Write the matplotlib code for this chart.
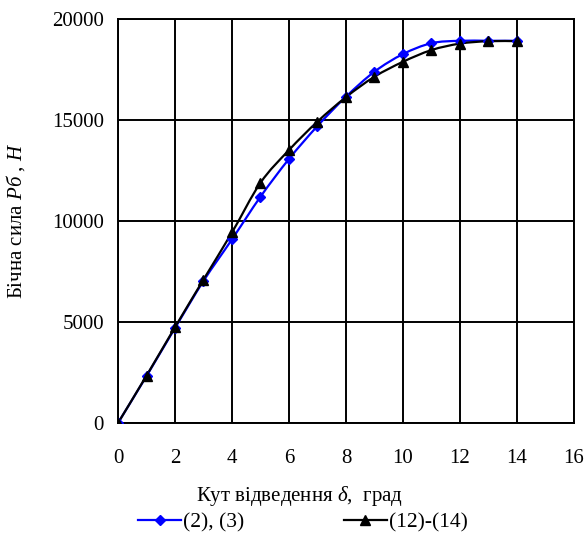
import matplotlib
matplotlib.use("Agg")
import matplotlib.pyplot as plt
import numpy as np
from matplotlib.path import Path
from matplotlib.patches import PathPatch

plt.rcParams['font.family'] = ['Liberation Serif', 'DejaVu Serif']
plt.rcParams['mathtext.fontset'] = 'custom'
plt.rcParams['mathtext.rm'] = 'Liberation Serif'
plt.rcParams['mathtext.it'] = 'Liberation Serif:italic'

angle = [0, 1, 2, 3, 4, 5, 6, 7, 8, 9, 10, 11, 12, 13, 14]
force_23 = [0, 2320, 4700, 7030, 9090, 11200, 13070, 14700, 16150, 17390, 18260, 18800, 18920, 18920, 18920]
force_1214 = [0, 2340, 4740, 7100, 9430, 11890, 13510, 14920, 16130, 17140, 17880, 18460, 18780, 18900, 18900]


def smooth_path(x, y):
    # Excel-like smoothed line: Catmull-Rom segments as cubic Bezier
    x = np.asarray(x, float)
    y = np.asarray(y, float)
    verts = [(x[0], y[0])]
    codes = [Path.MOVETO]
    n = len(x)
    for i in range(n - 1):
        p0 = (x[i - 1], y[i - 1]) if i > 0 else (x[i], y[i])
        p1 = (x[i], y[i])
        p2 = (x[i + 1], y[i + 1])
        p3 = (x[i + 2], y[i + 2]) if i + 2 < n else (x[i + 1], y[i + 1])
        c1 = (p1[0] + (p2[0] - p0[0]) / 6, p1[1] + (p2[1] - p0[1]) / 6)
        c2 = (p2[0] - (p3[0] - p1[0]) / 6, p2[1] - (p3[1] - p1[1]) / 6)
        verts += [c1, c2, p2]
        codes += [Path.CURVE4] * 3
    return Path(verts, codes)


fig = plt.figure(figsize=(5.88, 5.42), dpi=100)
ax = fig.add_axes([0.2007, 0.2196, 0.7753, 0.7454])

ax.add_patch(PathPatch(smooth_path(angle, force_23), fill=False, edgecolor='#0000ff', lw=1.6, zorder=3))
ax.add_patch(PathPatch(smooth_path(angle, force_1214), fill=False, edgecolor='black', lw=1.6, zorder=4))
ax.plot(angle, force_23, ls='none', marker='D', ms=5, color='#0000ff', zorder=5)
ax.plot(angle, force_1214, ls='none', marker='^', ms=7.5, color='black', zorder=6)

h1, = ax.plot([], [], color='#0000ff', lw=1.6, marker='D', ms=5)
h2, = ax.plot([], [], color='black', lw=1.6, marker='^', ms=7.5)

ax.set_xlim(0, 16)
ax.set_ylim(0, 20000)
ax.set_xticks(range(0, 17, 2))
ax.set_yticks(range(0, 20001, 5000))
ax.grid(True, color='black', lw=1.4)
ax.tick_params(length=0, labelsize=15)
ax.tick_params(axis='x', pad=19)
ax.tick_params(axis='y', pad=10)
for s in ax.spines.values():
    s.set_linewidth(1.4)
ax.set_axisbelow(True)

ax.set_xlabel(r'Кут відведення $\delta$,  град', fontsize=15)
ax.xaxis.set_label_coords(0.399, -0.152)
ax.set_ylabel(r'Бічна сила $Pб$ , $H$', fontsize=15, labelpad=18)

fig.legend([h1, h2], ['(2), (3)', '(12)-(14)'], loc='center', bbox_to_anchor=(0.515, 0.036),
           ncol=2, frameon=False, fontsize=15.5, columnspacing=4.6, handlelength=2.0,
           handletextpad=0.1)

fig.savefig('out.png', dpi=100)
